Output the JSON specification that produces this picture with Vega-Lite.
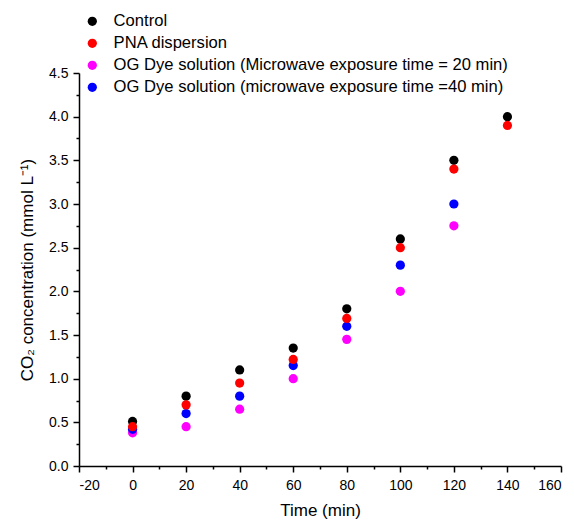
{
  "$schema": "https://vega.github.io/schema/vega-lite/v6.json",
  "autosize": "none",
  "width": 482,
  "height": 393,
  "padding": {"left": 79, "top": 73, "right": 13, "bottom": 55},
  "background": "white",
  "config": {
    "view": {"stroke": null},
    "font": "Liberation Sans",
    "axis": {"grid": false, "domainColor": "black", "domainWidth": 1.5, "tickColor": "black", "tickWidth": 1.5, "labelColor": "black", "titleColor": "black", "labelFontSize": 14, "titleFontSize": 17, "titleFontWeight": "normal", "labelFont": "Liberation Sans", "titleFont": "Liberation Sans"}
  },
  "data": {
    "values": [
      {"time": 0, "series": "Control", "co2": 0.51},
      {"time": 20, "series": "Control", "co2": 0.80},
      {"time": 40, "series": "Control", "co2": 1.10},
      {"time": 60, "series": "Control", "co2": 1.35},
      {"time": 80, "series": "Control", "co2": 1.80},
      {"time": 100, "series": "Control", "co2": 2.60},
      {"time": 120, "series": "Control", "co2": 3.50},
      {"time": 140, "series": "Control", "co2": 4.00},
      {"time": 0, "series": "PNA dispersion", "co2": 0.45},
      {"time": 20, "series": "PNA dispersion", "co2": 0.70},
      {"time": 40, "series": "PNA dispersion", "co2": 0.95},
      {"time": 60, "series": "PNA dispersion", "co2": 1.22},
      {"time": 80, "series": "PNA dispersion", "co2": 1.69},
      {"time": 100, "series": "PNA dispersion", "co2": 2.50},
      {"time": 120, "series": "PNA dispersion", "co2": 3.40},
      {"time": 140, "series": "PNA dispersion", "co2": 3.90},
      {"time": 0, "series": "OG Dye solution (Microwave exposure time = 20 min)", "co2": 0.38},
      {"time": 20, "series": "OG Dye solution (Microwave exposure time = 20 min)", "co2": 0.45},
      {"time": 40, "series": "OG Dye solution (Microwave exposure time = 20 min)", "co2": 0.65},
      {"time": 60, "series": "OG Dye solution (Microwave exposure time = 20 min)", "co2": 1.00},
      {"time": 80, "series": "OG Dye solution (Microwave exposure time = 20 min)", "co2": 1.45},
      {"time": 100, "series": "OG Dye solution (Microwave exposure time = 20 min)", "co2": 2.00},
      {"time": 120, "series": "OG Dye solution (Microwave exposure time = 20 min)", "co2": 2.75},
      {"time": 0, "series": "OG Dye solution (microwave exposure time =40 min)", "co2": 0.42},
      {"time": 20, "series": "OG Dye solution (microwave exposure time =40 min)", "co2": 0.60},
      {"time": 40, "series": "OG Dye solution (microwave exposure time =40 min)", "co2": 0.80},
      {"time": 60, "series": "OG Dye solution (microwave exposure time =40 min)", "co2": 1.15},
      {"time": 80, "series": "OG Dye solution (microwave exposure time =40 min)", "co2": 1.60},
      {"time": 100, "series": "OG Dye solution (microwave exposure time =40 min)", "co2": 2.30},
      {"time": 120, "series": "OG Dye solution (microwave exposure time =40 min)", "co2": 3.00}
    ]
  },
  "mark": {"type": "circle", "size": 85, "opacity": 1},
  "encoding": {
    "x": {
      "field": "time", "type": "quantitative",
      "scale": {"domain": [-20, 160], "nice": false, "zero": false},
      "axis": {
        "title": "Time (min)",
        "values": [-20, -10, 0, 10, 20, 30, 40, 50, 60, 70, 80, 90, 100, 110, 120, 130, 140, 150, 160],
        "labelExpr": "datum.value % 20 === 0 ? replace(datum.label, '−', '-') : ''",
        "tickSize": {"condition": {"test": "datum.value % 20 === 0", "value": 6}, "value": 3},
        "labelPadding": 6,
        "titlePadding": 10
      }
    },
    "y": {
      "field": "co2", "type": "quantitative",
      "scale": {"domain": [0, 4.5], "nice": false},
      "axis": {
        "title": "CO₂ concentration (mmol L⁻¹)",
        "values": [0, 0.25, 0.5, 0.75, 1, 1.25, 1.5, 1.75, 2, 2.25, 2.5, 2.75, 3, 3.25, 3.5, 3.75, 4, 4.25, 4.5],
        "format": ".1f",
        "labelExpr": "datum.value % 0.5 === 0 ? datum.label : ''",
        "tickSize": {"condition": {"test": "datum.value % 0.5 === 0", "value": 6}, "value": 3},
        "labelPadding": 5,
        "titlePadding": 12
      }
    },
    "color": {
      "field": "series", "type": "nominal",
      "sort": ["Control", "PNA dispersion", "OG Dye solution (Microwave exposure time = 20 min)", "OG Dye solution (microwave exposure time =40 min)"],
      "scale": {
        "domain": ["Control", "PNA dispersion", "OG Dye solution (Microwave exposure time = 20 min)", "OG Dye solution (microwave exposure time =40 min)"],
        "range": ["#000000", "#FF0000", "#FF00FF", "#0000FF"]
      },
      "legend": {
        "title": null,
        "orient": "none",
        "legendX": 5,
        "legendY": -60,
        "labelFontSize": 16.6,
        "labelLimit": 600,
        "labelColor": "black",
        "labelFont": "Liberation Sans",
        "symbolSize": 85,
        "symbolType": "circle",
        "symbolStrokeWidth": 0,
        "rowPadding": 5,
        "labelOffset": 13
      }
    },
    "order": {"field": "series", "sort": "ascending"}
  }
}
